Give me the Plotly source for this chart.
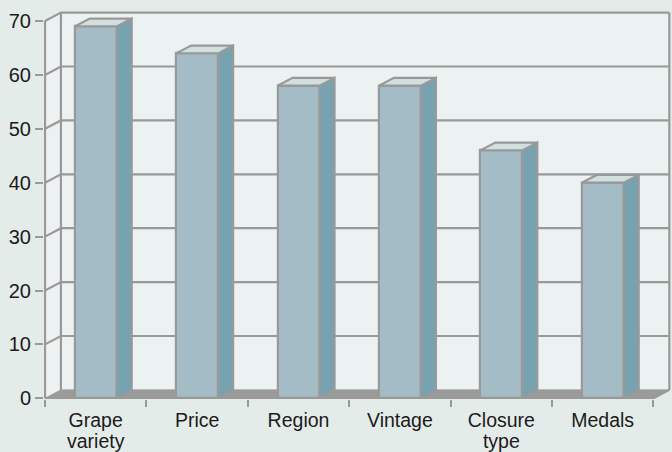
import plotly.graph_objects as go

# ---- data ----
categories = ["Grape variety", "Price", "Region", "Vintage", "Closure type", "Medals"]
label_line1 = ["Grape", "Price", "Region", "Vintage", "Closure", "Medals"]
label_line2 = ["variety", "", "", "", "type", ""]
values = [69, 64, 58, 58, 46, 40]
y_ticks = [0, 10, 20, 30, 40, 50, 60, 70]

# ---- styling / 3D geometry (data units) ----
BAR_W = 0.414
BAR_DX, BAR_DY = 0.148, 1.45
WALL_DX, WALL_DY = 0.157, 1.56
Y_MAX = y_ticks[-1]

BG = "#e4ecea"
WALL = "#ecf1f1"
LINE = "#999999"
FLOOR = "#9b9b9b"
FRONT = "#a3bcc5"
SIDE = "#77a3b0"
TOP = "#d2dfe1"
TEXT = "#1c1a1b"
FONT = "Liberation Sans, Arial, Helvetica, sans-serif"
LW = 2.2

xs = list(range(len(categories)))
x_left, x_right = -0.5, len(categories) - 0.5

fig = go.Figure()

common = dict(mode="lines", hoverinfo="skip", showlegend=False)

# back wall + left side wall
fig.add_trace(go.Scatter(
    x=[x_left, x_left + WALL_DX, x_right + WALL_DX, x_right + WALL_DX, x_left + WALL_DX, x_left],
    y=[0, WALL_DY, WALL_DY, Y_MAX + WALL_DY, Y_MAX + WALL_DY, Y_MAX],
    fill="toself", fillcolor=WALL, line=dict(width=0), **common))

# floor
fig.add_trace(go.Scatter(
    x=[x_left, x_right, x_right + WALL_DX, x_left + WALL_DX, x_left],
    y=[0, 0, WALL_DY, WALL_DY, 0],
    fill="toself", fillcolor=FLOOR, line=dict(color=FLOOR, width=1), **common))

# gridlines (side wall diagonal + back wall horizontal)
gx, gy = [], []
for v in y_ticks[1:]:
    gx += [x_left, x_left + WALL_DX, x_right + WALL_DX, None]
    gy += [v, v + WALL_DY, v + WALL_DY, None]
# frame lines
gx += [x_left, x_left, None]
gy += [0, Y_MAX, None]
gx += [x_left + WALL_DX, x_left + WALL_DX, None]
gy += [WALL_DY, Y_MAX + WALL_DY, None]
gx += [x_right + WALL_DX, x_right + WALL_DX, None]
gy += [WALL_DY, Y_MAX + WALL_DY, None]
gx += [x_left, x_right, x_right + WALL_DX, None]
gy += [0, 0, WALL_DY, None]
fig.add_trace(go.Scatter(x=gx, y=gy, line=dict(color=LINE, width=LW), **common))

# ---- bars on overlay axes (drawn above walls) ----
fig.add_trace(go.Bar(
    x=xs, y=values, width=BAR_W, name="", customdata=categories,
    marker=dict(color=FRONT, line=dict(color=LINE, width=LW)),
    xaxis="x2", yaxis="y2", hoverinfo="skip", showlegend=False))

sx, sy, tx, ty = [], [], [], []
for c, v in zip(xs, values):
    r = c + BAR_W / 2
    l = c - BAR_W / 2
    sx += [r, r + BAR_DX, r + BAR_DX, r, r, None]
    sy += [0, BAR_DY, v + BAR_DY, v, 0, None]
    tx += [l, r, r + BAR_DX, l + BAR_DX, l, None]
    ty += [v, v, v + BAR_DY, v + BAR_DY, v, None]

fig.add_trace(go.Scatter(x=sx, y=sy, fill="toself", fillcolor=SIDE,
                         line=dict(color=LINE, width=LW), xaxis="x2", yaxis="y2", **common))
fig.add_trace(go.Scatter(x=tx, y=ty, fill="toself", fillcolor=TOP,
                         line=dict(color=LINE, width=LW), xaxis="x2", yaxis="y2", **common))

XR = [-0.51, 5.6834]
YR = [-0.13, 73.9]

label_font = dict(size=19.5, color=TEXT, family=FONT)
hidden = dict(showgrid=False, zeroline=False, showline=False, fixedrange=True, automargin=False)

fig.update_layout(
    width=672, height=452,
    margin=dict(l=44, r=0, t=0, b=53, autoexpand=False),
    paper_bgcolor=BG, plot_bgcolor=BG,
    font=dict(family=FONT, color=TEXT),
    bargap=0,
    xaxis=dict(range=XR, tickvals=[x_left + i for i in range(len(categories) + 1)],
               showticklabels=False, ticks="outside", ticklen=7, tickwidth=2, tickcolor=LINE,
               **hidden),
    yaxis=dict(range=YR, tickvals=y_ticks, ticks="outside", ticklen=8, tickwidth=2,
               tickcolor=LINE, tickfont=dict(size=20, color=TEXT, family=FONT), **hidden),
    xaxis2=dict(range=XR, overlaying="x", anchor="y2", side="bottom",
                tickvals=xs, ticktext=label_line1, ticks="outside", ticklen=4,
                tickcolor="rgba(0,0,0,0)", tickfont=label_font, **hidden),
    xaxis3=dict(range=XR, overlaying="x", anchor="y2", side="bottom",
                tickvals=xs, ticktext=label_line2, ticks="outside", ticklen=25,
                tickcolor="rgba(0,0,0,0)", tickfont=label_font, **hidden),
    yaxis2=dict(range=YR, overlaying="y", anchor="x2", visible=False, fixedrange=True,
                automargin=False),
)

# dummy invisible trace so xaxis3 is rendered
fig.add_trace(go.Scatter(x=[xs[0]], y=[0], mode="markers", marker=dict(opacity=0),
                         xaxis="x3", yaxis="y2", hoverinfo="skip", showlegend=False))

fig.write_html("out.html", config={"displayModeBar": False})
